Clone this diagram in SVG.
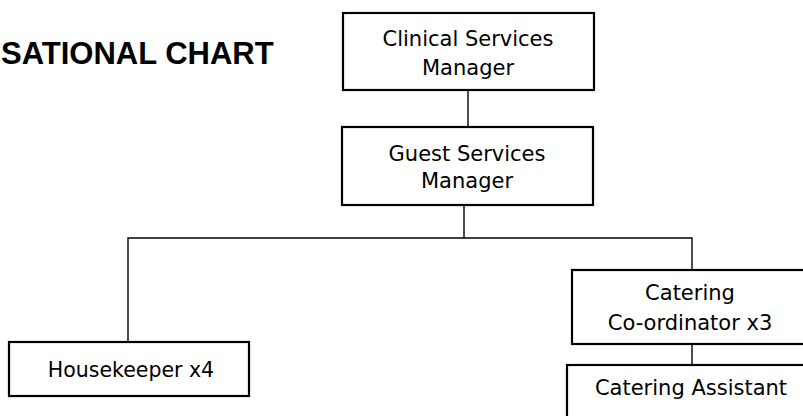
<svg xmlns="http://www.w3.org/2000/svg" width="803" height="416" viewBox="0 0 803 416">
<style>
.box{fill:#fff;stroke:#000;stroke-width:2.2}
.lbl{font-family:"DejaVu Sans",Verdana,sans-serif;font-size:21px;fill:#000;text-anchor:middle}
.conn{stroke:#000;stroke-width:1.4;fill:none}
.title{font-family:"Liberation Sans",Arial,sans-serif;font-weight:bold;font-size:31px;fill:#000}
</style>
<rect width="803" height="416" fill="#fff"/>
<text class="title" x="1" y="64">SATIONAL CHART</text>
<g id="connectors">
<line class="conn" x1="468" y1="90" x2="468" y2="127"/>
<line class="conn" x1="464" y1="205" x2="464" y2="238"/>
<polyline class="conn" points="128,342 128,238 692,238 692,270"/>
<line class="conn" x1="692" y1="344" x2="692" y2="365"/>
</g>
<g id="clinical">
<rect class="box" x="343" y="13" width="251" height="77"/>
<text class="lbl" x="468" y="46">Clinical Services</text>
<text class="lbl" x="468" y="75">Manager</text>
</g>
<g id="guest">
<rect class="box" x="342" y="127" width="251" height="78"/>
<text class="lbl" x="467" y="161">Guest Services</text>
<text class="lbl" x="467" y="188">Manager</text>
</g>
<g id="housekeeper">
<rect class="box" x="9" y="342" width="240" height="54"/>
<text class="lbl" x="131" y="377" style="font-size:20.5px">Housekeeper x4</text>
</g>
<g id="coordinator">
<rect class="box" x="572" y="270" width="236" height="74"/>
<text class="lbl" x="690" y="300">Catering</text>
<text class="lbl" x="690" y="330">Co-ordinator x3</text>
</g>
<g id="assistant">
<rect class="box" x="567" y="365" width="245" height="60"/>
<text class="lbl" x="691" y="395">Catering Assistant</text>
</g>
</svg>
